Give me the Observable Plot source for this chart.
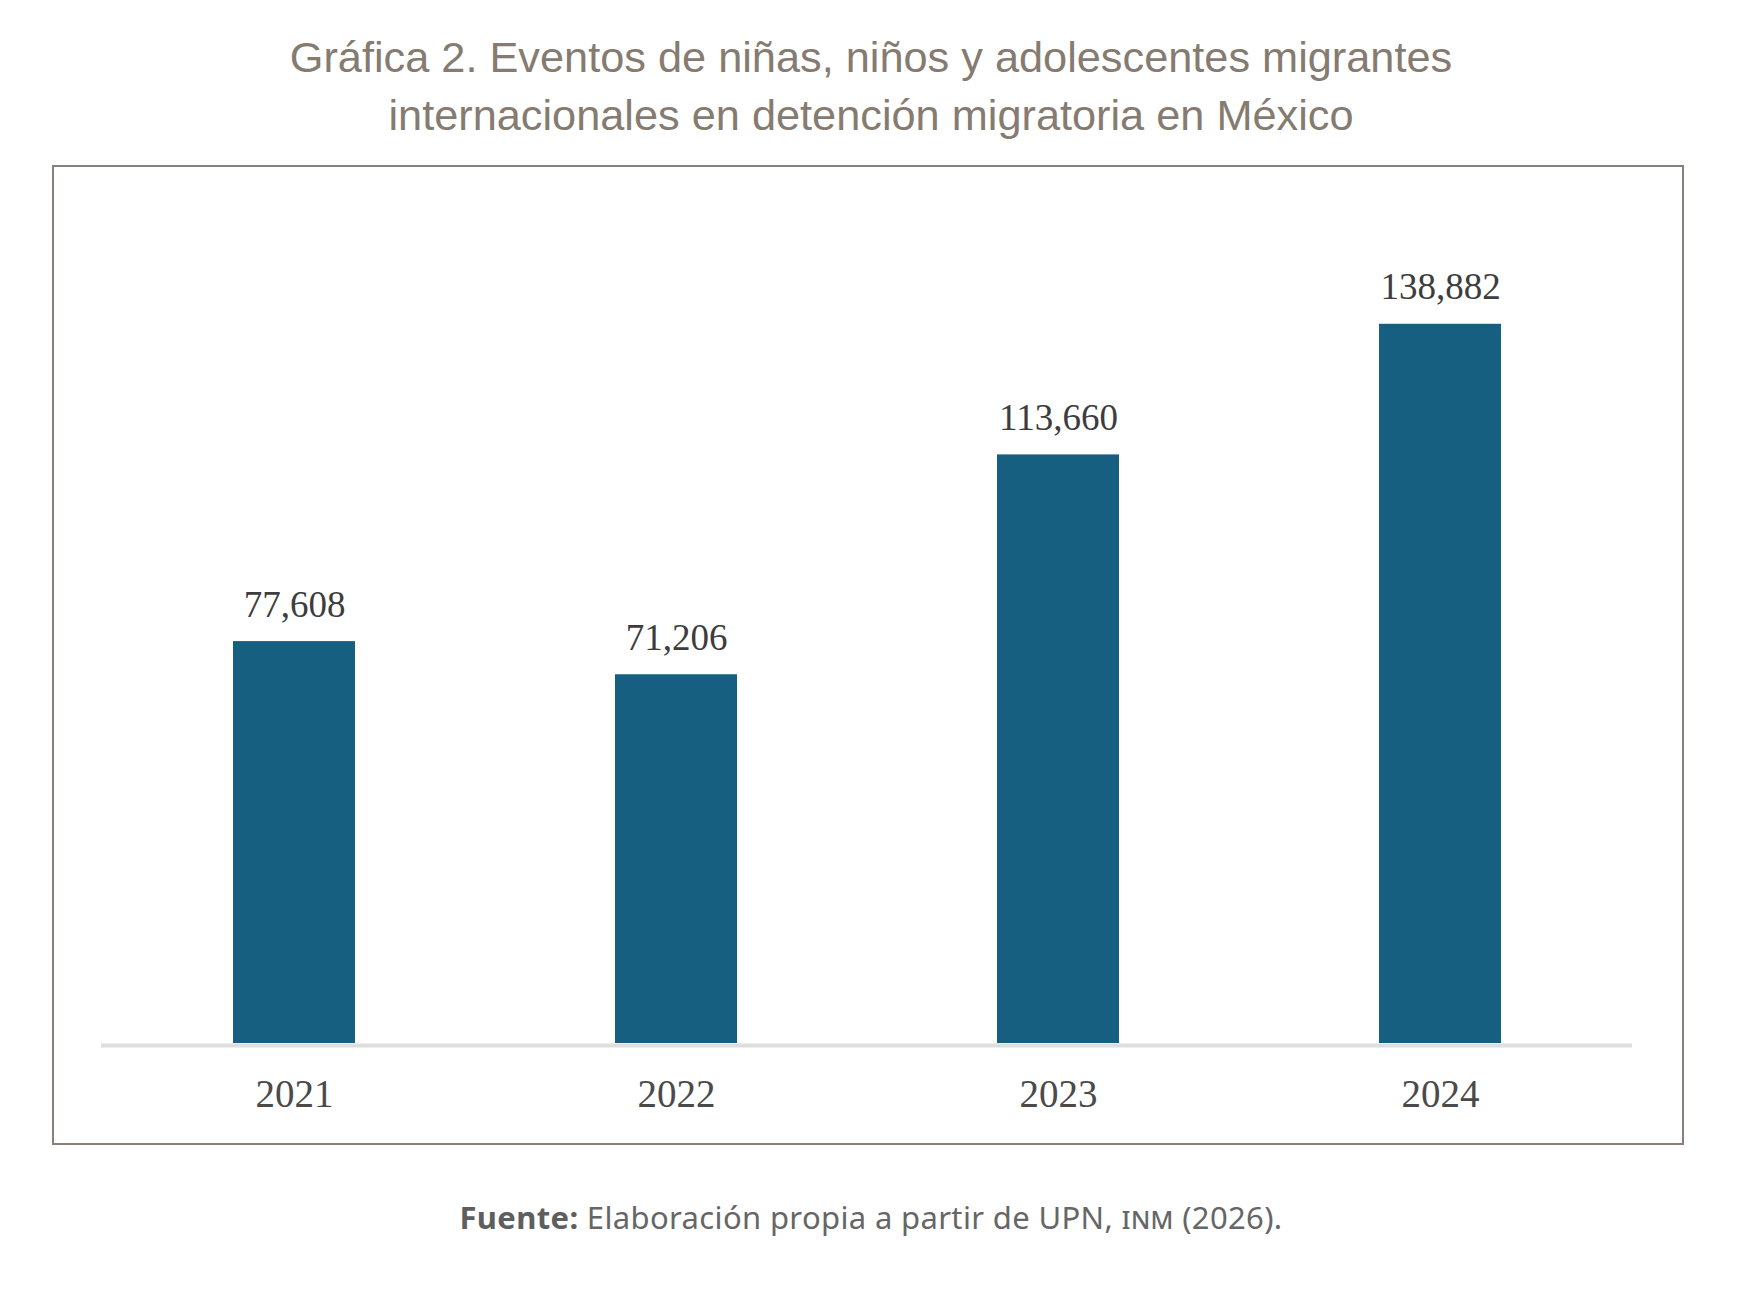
<!DOCTYPE html>
<html>
<head>
<meta charset="utf-8">
<script src="https://cdn.jsdelivr.net/npm/d3@7"></script>
<script src="https://cdn.jsdelivr.net/npm/@observablehq/plot@0.6"></script>
<style>
  html, body { margin: 0; padding: 0; background: #ffffff; }
  body { width: 1742px; height: 1291px; position: relative; overflow: hidden; }
  #title {
    position: absolute; left: 0; top: 28px; width: 1742px;
    text-align: center; font-family: "Liberation Sans", Arial, sans-serif;
    font-size: 43.3px; line-height: 58px; color: #857b71;
  }
  #frame {
    position: absolute; left: 52px; top: 165px; width: 1628px; height: 976px;
    border: 2px solid #8a8078;
  }
  #footer {
    position: absolute; left: 0; top: 1202px; width: 1742px; text-align: center;
    font-family: "Noto Sans", "Open Sans", sans-serif; font-size: 31px; line-height: 31px;
    letter-spacing: 0.35px; color: #666666;
  }
  #footer b { color: #5e5e5e; font-weight: 700; }
  .sc { font-variant: small-caps; }
</style>
</head>
<body>
<div id="title">Gráfica 2. Eventos de niñas, niños y adolescentes migrantes<br>internacionales en detención migratoria en México</div>
<div id="frame"></div>
<div id="footer"><b>Fuente:</b> Elaboración propia a partir de UPN, <span class="sc">inm</span> (2026).</div>
<script>
const years = ["2021", "2022", "2023", "2024"];
const values = [77608, 71206, 113660, 138882];
const yDomain = [0, 140000];

const data = years.map((year, i) => ({ year, value: values[i] }));
const fmt = d3.format(",");

const chart = Plot.plot({
  width: 1628,
  height: 976,
  marginTop: 151,
  marginBottom: 100,
  marginLeft: 47,
  marginRight: 50,
  style: { fontFamily: "'Liberation Serif', 'Times New Roman', serif", background: "transparent" },
  x: { domain: years, padding: 0, label: null },
  y: { domain: yDomain, axis: null },
  marks: [
    Plot.barY(data, { x: "year", y: "value", fill: "#175f80", insetLeft: 130, insetRight: 130 }),
    Plot.ruleY([0], { stroke: "#dedede", strokeWidth: 4, dy: 2 }),
    Plot.text(data, {
      x: "year", y: "value", text: d => fmt(d.value),
      dy: -25, lineAnchor: "bottom", fontSize: 37, fill: "#3d3d3d"
    }),
    Plot.axisX({ tickSize: 0, tickPadding: 36, fontSize: 39, fill: "#4a4a4a", label: null })
  ]
});
document.getElementById("frame").appendChild(chart);
</script>
</body>
</html>
